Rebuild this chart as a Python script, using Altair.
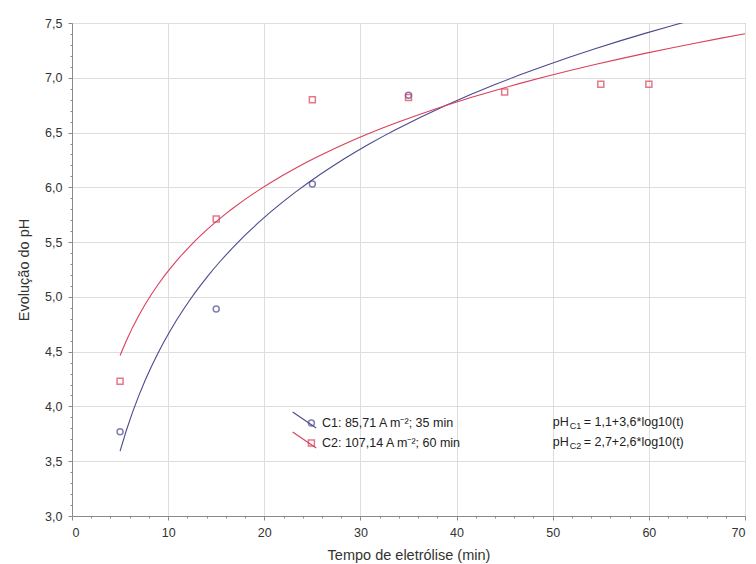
import altair as alt
import pandas as pd

# ---- data ----
t_c1 = [5, 15, 25, 35]
ph_c1 = [3.77, 4.89, 6.03, 6.84]
t_c2 = [5, 15, 25, 35, 45, 55, 60]
ph_c2 = [4.23, 5.71, 6.80, 6.82, 6.87, 6.94, 6.94]
series_names = ["C1", "C2"]
legend_labels = ["C1: 85,71 A m⁻²; 35 min", "C2: 107,14 A m⁻²; 60 min"]
eq_sub = ["C1", "C2"]
eq_rest = [" = 1,1+3,6*log10(t)", " = 2,7+2,6*log10(t)"]

BLUE = "#3d3d9e"
BLUE_LINE = "#4a4a90"
RED = "#cf2d35"
RED_LINE = "#d9405a"
FONT = "Liberation Sans"

df = pd.DataFrame(
    {"t": t_c1 + t_c2,
     "pH": ph_c1 + ph_c2,
     "serie": ["C1"] * len(t_c1) + ["C2"] * len(t_c2)}
)

color_scale = alt.Scale(domain=series_names, range=[BLUE, RED])
line_color_scale = alt.Scale(domain=series_names, range=[BLUE_LINE, RED_LINE])
shape_scale = alt.Scale(domain=series_names, range=["circle", "square"])

x_scale = alt.Scale(domain=[0, 70], nice=False, zero=False)
y_scale = alt.Scale(domain=[3.0, 7.5], nice=False, zero=False)

x_axis = alt.Axis(
    title="Tempo de eletrólise (min)",
    values=list(range(0, 71, 2)),
    tickCount=200,
    labelOverlap=False,
    labelExpr="datum.value % 10 === 0 ? datum.label : ''",
    gridOpacity={"condition": {"test": "datum.value % 10 === 0", "value": 1}, "value": 0},
    tickSize={"condition": {"test": "datum.value % 10 === 0", "value": 4}, "value": 2},
    format="d",
    labelFontSize=12.5, titleFontSize=14.5, labelPadding=6, titlePadding=10,
)
y_axis = alt.Axis(
    title="Evolução do pH",
    values=[round(3.0 + 0.1 * i, 1) for i in range(46)],
    tickCount=200,
    labelOverlap=False,
    labelExpr="round(datum.value*10) % 5 === 0 ? replace(format(datum.value, '.1f'), '.', ',') : ''",
    gridOpacity={"condition": {"test": "round(datum.value*10) % 5 === 0", "value": 1}, "value": 0},
    tickSize={"condition": {"test": "round(datum.value*10) % 5 === 0", "value": 4}, "value": 2},
    labelFontSize=12.5, titleFontSize=14.5, labelPadding=6, titlePadding=13,
)

base = alt.Chart(df)

curves = base.transform_regression(
    "t", "pH", method="log", groupby=["serie"], extent=[5, 70]
).mark_line(strokeWidth=1.1, clip=True).encode(
    x=alt.X("t:Q", scale=x_scale, axis=x_axis),
    y=alt.Y("pH:Q", scale=y_scale, axis=y_axis),
    color=alt.Color("serie:N", scale=line_color_scale, legend=None),
)

points = base.mark_point(filled=False, size=36, strokeWidth=1.5).encode(
    x=alt.X("t:Q", scale=x_scale),
    y=alt.Y("pH:Q", scale=y_scale),
    color=alt.Color("serie:N", scale=color_scale, legend=None),
    shape=alt.Shape("serie:N", scale=shape_scale, legend=None),
)

# ---- manual legend (positions in data units) ----
leg = pd.DataFrame({
    "serie": series_names,
    "label": legend_labels,
    "mx": [24.9, 24.9],
    "my": [3.849, 3.666],
    "lx": [22.95, 22.95],
    "ly": [3.949, 3.766],
    "lx2": [25.4, 25.4],
    "ly2": [3.803, 3.621],
    "tx": [26.0, 26.0],
    "ex": [50.0, 50.0],
    "ey": [3.858, 3.676],
    "sub": eq_sub,
    "rest": eq_rest,
})
lbase = alt.Chart(leg)
leg_lines = lbase.mark_rule(strokeWidth=1.1).encode(
    x=alt.X("lx:Q", scale=x_scale), y=alt.Y("ly:Q", scale=y_scale),
    x2="lx2:Q", y2="ly2:Q",
    color=alt.Color("serie:N", scale=line_color_scale, legend=None),
)
leg_pts = lbase.mark_point(filled=False, size=36, strokeWidth=1.5).encode(
    x=alt.X("mx:Q", scale=x_scale), y=alt.Y("my:Q", scale=y_scale),
    color=alt.Color("serie:N", scale=color_scale, legend=None),
    shape=alt.Shape("serie:N", scale=shape_scale, legend=None),
)
leg_txt = lbase.mark_text(align="left", baseline="middle", font=FONT, fontSize=12.5, color="#222").encode(
    x=alt.X("tx:Q", scale=x_scale), y=alt.Y("my:Q", scale=y_scale), text="label:N",
)
eq_ph = lbase.mark_text(align="left", baseline="middle", font=FONT, fontSize=12.5, color="#222").encode(
    x=alt.X("ex:Q", scale=x_scale), y=alt.Y("ey:Q", scale=y_scale), text=alt.value("pH"),
)
eq_s = lbase.mark_text(align="left", baseline="middle", font=FONT, fontSize=9, color="#222", dx=17, dy=4).encode(
    x=alt.X("ex:Q", scale=x_scale), y=alt.Y("ey:Q", scale=y_scale), text="sub:N",
)
eq_r = lbase.mark_text(align="left", baseline="middle", font=FONT, fontSize=12.5, color="#222", dx=31).encode(
    x=alt.X("ex:Q", scale=x_scale), y=alt.Y("ey:Q", scale=y_scale), text="rest:N",
)

chart = alt.layer(curves, points, leg_lines, leg_pts, leg_txt, eq_ph, eq_s, eq_r).properties(
    width=673, height=493,
    autosize=alt.AutoSizeParams(type="none"),
    padding={"left": 72, "top": 23, "right": 11, "bottom": 48},
    background="white",
).configure_view(
    stroke="#8a8a8a", strokeWidth=1,
).configure_axis(
    labelFont=FONT, titleFont=FONT, labelColor="#333", titleColor="#333",
    titleFontWeight="normal", gridColor="#dedede", gridWidth=1,
    domainColor="#8a8a8a", tickColor="#8a8a8a",
)

chart.save("out.html", embed_options={"renderer": "svg", "actions": False})
